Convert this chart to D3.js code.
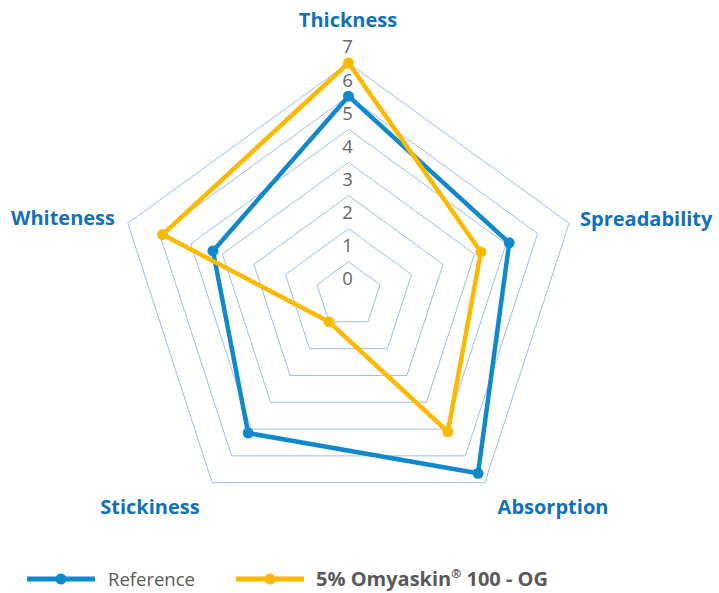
<!DOCTYPE html>
<html>
<head>
<meta charset="utf-8">
<script src="https://d3js.org/d3.v7.min.js"></script>
<style>
  body { margin: 0; background: #fff; }
  text { font-family: "Open Sans", sans-serif; }
</style>
</head>
<body>
<div id="chart"></div>
<script>
// data
const axes = ["Thickness", "Spreadability", "Absorption", "Stickiness", "Whiteness"]
const ticks = [0, 1, 2, 3, 4, 5, 6, 7]
const reference = [6, 5.1, 6.65, 5.15, 4.3]
const omyaskin = [7, 4.2, 5.1, 1, 5.9]
const seriesNames = ["Reference", "5% Omyaskin\u00ae 100 - OG"]

const width = 719, height = 593
const cx = 348.5, cy = 295
const blue = "#1089cb", yellow = "#fcb900", labelBlue = "#1170b8"

const svg = d3.select("#chart").append("svg")
  .attr("width", width)
  .attr("height", height)

const r = d3.scaleLinear().domain([0, 7]).range([0, 232])
const angle = d3.scaleLinear().domain([0, axes.length]).range([0, 2 * Math.PI])

const g = svg.append("g").attr("transform", `translate(${cx},${cy})`)

// grid rings
const ring = d3.lineRadial()
  .angle((d, i) => angle(i))
  .radius(d => r(d))
  .curve(d3.curveLinearClosed)

g.selectAll(".ring")
  .data(ticks.slice(1))
  .enter().append("path")
  .attr("d", t => ring(axes.map(() => t)))
  .attr("fill", "none")
  .attr("stroke", "#9dbde6")
  .attr("stroke-width", 1)

// tick labels
g.selectAll(".tick")
  .data(ticks)
  .enter().append("text")
  .attr("x", -1)
  .attr("y", t => -r(t) - 16)
  .attr("dy", "0.35em")
  .attr("text-anchor", "middle")
  .attr("fill", "#666")
  .style("font-size", "18.5px")
  .text(t => t)

// axis labels
const labelPos = [
  { x: 348, y: 27, anchor: "middle" },
  { x: 580, y: 226, anchor: "start" },
  { x: 553, y: 514, anchor: "middle" },
  { x: 150, y: 514, anchor: "middle" },
  { x: 115, y: 225, anchor: "end" }
]
svg.selectAll(".axis-label")
  .data(axes)
  .enter().append("text")
  .attr("x", (d, i) => labelPos[i].x)
  .attr("y", (d, i) => labelPos[i].y)
  .attr("text-anchor", (d, i) => labelPos[i].anchor)
  .attr("fill", labelBlue)
  .style("font-size", "20px")
  .style("font-weight", "bold")
  .text(d => d)

// series
function point(v, i) {
  const a = angle(i)
  return [r(v) * Math.sin(a), -r(v) * Math.cos(a)]
}
const series = [
  { name: seriesNames[0], values: reference, color: blue },
  { name: seriesNames[1], values: omyaskin, color: yellow }
]
series.forEach(s => {
  g.append("path")
    .attr("d", ring(s.values))
    .attr("fill", "none")
    .attr("stroke", s.color)
    .attr("stroke-width", 4.5)
    .attr("stroke-linejoin", "round")
  g.selectAll(null)
    .data(s.values)
    .enter().append("circle")
    .attr("cx", (d, i) => point(d, i)[0])
    .attr("cy", (d, i) => point(d, i)[1])
    .attr("r", 5.5)
    .attr("fill", s.color)
})

// legend
const legend = [
  { x: 27, color: blue, text: seriesNames[0], bold: false, tx: 108, size: 18.5 },
  { x: 236, color: yellow, text: seriesNames[1], bold: true, tx: 316, size: 20 }
]
const ly = 579
legend.forEach(l => {
  svg.append("line")
    .attr("x1", l.x).attr("x2", l.x + 68)
    .attr("y1", ly).attr("y2", ly)
    .attr("stroke", l.color)
    .attr("stroke-width", 5)
  svg.append("circle")
    .attr("cx", l.x + 34).attr("cy", ly)
    .attr("r", 5.5)
    .attr("fill", l.color)
  const t = svg.append("text")
    .attr("x", l.tx).attr("y", ly + 7)
    .attr("fill", "#595959")
    .style("font-size", l.size + "px")
    .style("font-weight", l.bold ? "bold" : "normal")
  // raise the registered mark like the original
  let shift = 0
  l.text.split(/(\u00ae)/).forEach(part => {
    if (!part) return
    if (part === "\u00ae") {
      t.append("tspan").attr("dy", -8).style("font-size", "12px").text(part)
      shift = 8
    } else {
      t.append("tspan").attr("dy", shift).text(part)
      shift = 0
    }
  })
})
</script>
</body>
</html>
